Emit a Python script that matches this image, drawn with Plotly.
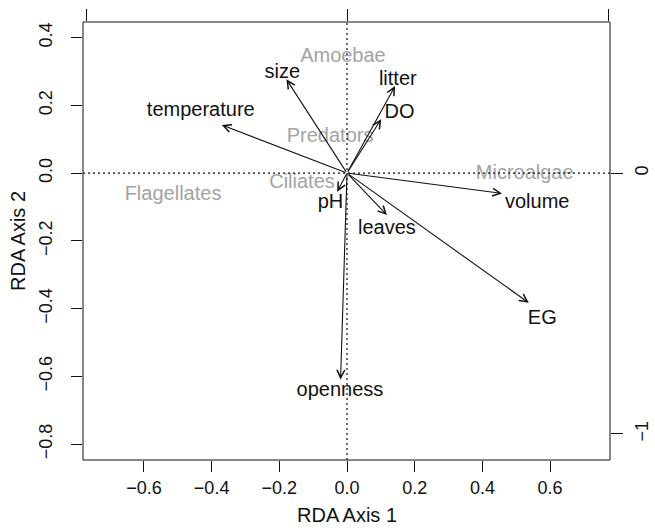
import plotly.graph_objects as go

# Environmental vectors (arrow tips, RDA axis 1 / axis 2)
env_names = ["temperature", "size", "litter", "DO", "pH", "leaves", "volume", "EG", "openness"]
env_x = [-0.370, -0.179, 0.142, 0.101, -0.029, 0.118, 0.458, 0.537, -0.019]
env_y = [0.142, 0.277, 0.257, 0.159, -0.055, -0.124, -0.060, -0.383, -0.609]
# Label positions of the vectors
env_lab_x = [-0.432, -0.191, 0.150, 0.155, -0.049, 0.118, 0.562, 0.577, -0.021]
env_lab_y = [0.184, 0.296, 0.275, 0.178, -0.088, -0.166, -0.089, -0.431, -0.643]

# Species (grey labels)
sp_names = ["Amoebae", "Predators", "Ciliates", "Flagellates", "Microalgae"]
sp_x = [-0.012, -0.050, -0.133, -0.514, 0.525]
sp_y = [0.342, 0.107, -0.028, -0.065, -0.004]

# Tick labels
x_ticks = [-0.6, -0.4, -0.2, 0.0, 0.2, 0.4, 0.6]
y_ticks = [0.4, 0.2, 0.0, -0.2, -0.4, -0.6, -0.8]
right_ticks = [0, -1]
top_ticks = [-1, 0, 1]


def fmt(v):
    s = f"{v:.1f}"
    return s.replace("-", "\u2212")


FONT = "Liberation Sans, Arial, Helvetica, sans-serif"
FS_LAB = 20
FS_TICK = 18
FS_TITLE = 20
INK = "#111111"

fig = go.Figure()

# invisible traces to anchor axes
fig.add_trace(go.Scatter(x=[0], y=[0], mode="markers", marker=dict(opacity=0),
                         showlegend=False, hoverinfo="skip"))
fig.add_trace(go.Scatter(x=[0], y=[0], mode="markers", marker=dict(opacity=0),
                         xaxis="x2", yaxis="y2", showlegend=False, hoverinfo="skip"))

# species labels
fig.add_trace(go.Scatter(x=sp_x, y=sp_y, mode="text", text=sp_names,
                         textfont=dict(family=FONT, size=FS_LAB, color="#a3a3a3"),
                         showlegend=False, hoverinfo="skip"))

annotations = []
for name, x, y in zip(env_names, env_x, env_y):
    annotations.append(dict(
        x=x, y=y, ax=0, ay=0, xref="x", yref="y", axref="x", ayref="y",
        text="", showarrow=True, arrowhead=5, arrowsize=1.4, arrowwidth=1.1,
        arrowcolor=INK, standoff=0, startstandoff=0))

# env labels
fig.add_trace(go.Scatter(x=env_lab_x, y=env_lab_y, mode="text", text=env_names,
                         textfont=dict(family=FONT, size=FS_LAB, color=INK),
                         showlegend=False, hoverinfo="skip"))

# axis titles
annotations.append(dict(text="RDA Axis 1", xref="paper", yref="paper", x=0.5, y=0,
                        yshift=-55, showarrow=False, xanchor="center", yanchor="middle",
                        font=dict(family=FONT, size=FS_TITLE, color=INK)))
annotations.append(dict(text="RDA Axis 2", xref="paper", yref="paper", x=0, y=0.5,
                        xshift=-65, showarrow=False, xanchor="center", yanchor="middle",
                        textangle=-90, font=dict(family=FONT, size=FS_TITLE, color=INK)))

shapes = [
    dict(type="rect", xref="paper", yref="paper", x0=0, y0=0, x1=1, y1=1,
         line=dict(color=INK, width=1)),
    dict(type="line", xref="x", yref="paper", x0=0, x1=0, y0=0, y1=1,
         line=dict(color=INK, width=1.2, dash="2px,3px")),
    dict(type="line", xref="paper", yref="y", x0=0, x1=1, y0=0, y1=0,
         line=dict(color=INK, width=1.2, dash="2px,3px")),
]

axis_common = dict(showgrid=False, zeroline=False, showline=False, ticks="outside",
                   tickcolor=INK, tickwidth=1, automargin=False,
                   tickfont=dict(family=FONT, size=FS_TICK, color=INK))

fig.update_layout(
    width=655, height=528,
    margin=dict(l=83, r=45, t=22, b=68, pad=0, autoexpand=False),
    paper_bgcolor="white", plot_bgcolor="white",
    showlegend=False,
    xaxis=dict(range=[-0.780, 0.777], tickvals=x_ticks, ticktext=[fmt(v) for v in x_ticks],
               ticklen=11, **axis_common),
    yaxis=dict(range=[-0.847, 0.446], tickvals=y_ticks, ticktext=[fmt(v) for v in y_ticks],
               ticklen=11, tickangle=-90, ticklabelstandoff=12, **axis_common),
    xaxis2=dict(range=[-1.013, 1.006], overlaying="x", side="top", tickvals=top_ticks,
                showticklabels=False, ticklen=12, **axis_common),
    yaxis2=dict(range=[-1.0997, 0.579], overlaying="y", side="right", tickvals=right_ticks,
                ticktext=["0", "\u22121"], ticklen=12, tickangle=-90, ticklabelstandoff=3,
                **axis_common),
    shapes=shapes,
    annotations=annotations,
)

fig.write_html("out.html")
